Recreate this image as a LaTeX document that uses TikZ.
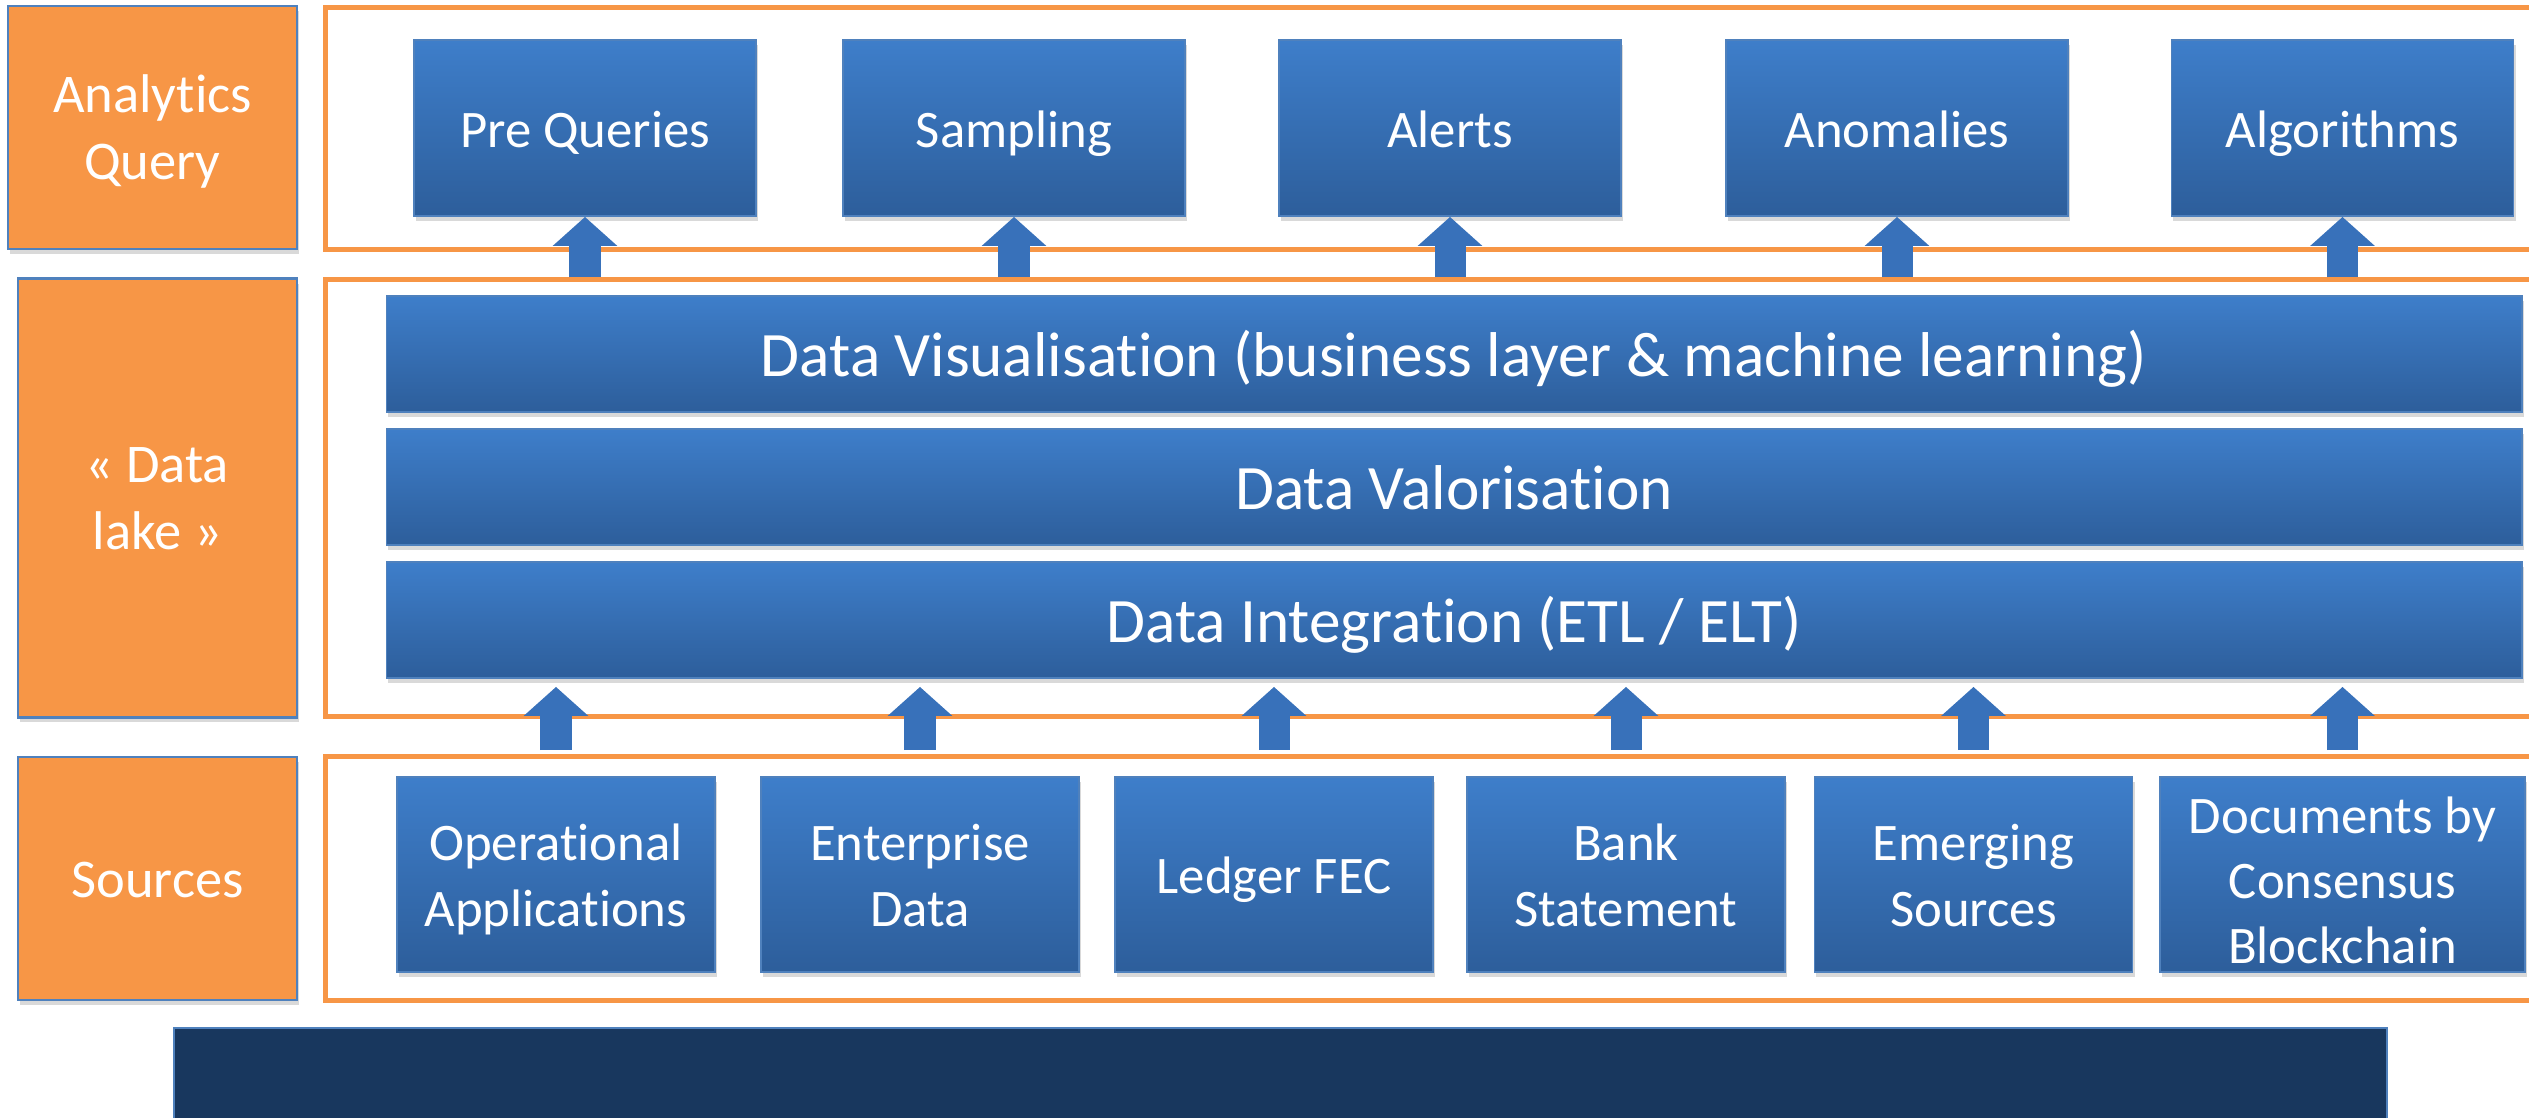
\documentclass[tikz,border=0pt]{standalone}
\usepackage{fontspec}
\setmainfont{Carlito}[Ligatures=NoCommon]
\usetikzlibrary{arrows.meta,shadows}
\definecolor{lblorange}{RGB}{247,150,70}
\definecolor{boxtop}{RGB}{62,126,202}
\definecolor{boxbottom}{RGB}{45,94,155}
\definecolor{boxedge}{RGB}{79,129,189}
\definecolor{navy}{RGB}{24,55,94}
\definecolor{arrowblue}{RGB}{56,113,186}
\tikzset{
  softshadow/.style={drop shadow={opacity=0.3,shadow xshift=0.02cm,shadow yshift=-0.05cm}},
  oneline/.style={text height=12.2pt,text depth=1.4pt},
  twolines/.style={text height=30.7pt,text depth=1.4pt},
  threelines/.style={text height=52pt,text depth=1.4pt},
  labelbox/.style={draw=boxedge,line width=0.8pt,fill=lblorange,text=white,align=center,
    inner sep=0pt,font=\fontsize{15.5}{19}\selectfont,softshadow},
  framebox/.style={draw=lblorange,line width=0.05cm,minimum width=22.34cm,inner sep=0pt},
  bluebox/.style={draw=boxedge,line width=0.5pt,top color=boxtop,bottom color=boxbottom,
    text=white,align=center,inner sep=0pt,font=\fontsize{15}{18.5}\selectfont,softshadow},
  querybox/.style={bluebox,oneline,minimum width=3.42cm,minimum height=1.76cm},
  sourcebox/.style={bluebox,minimum width=3.18cm,minimum height=1.95cm},
  layerbar/.style={bluebox,font=\fontsize{18}{22}\selectfont,text height=14.6pt,text depth=1.7pt,
    minimum width=21.34cm,minimum height=1.16cm},
  uparrow/.style={draw=arrowblue,line width=0.31cm,-{Triangle[width=0.63cm,length=0.29cm]}}
}
\begin{document}
\begin{tikzpicture}[x=0.01cm,y=-0.01cm]
  \useasboundingbox (0,0) rectangle (2529,1117);
  \clip (0,0) rectangle (2529,1117);

  \node[labelbox,twolines,minimum width=2.89cm,minimum height=2.43cm] (aqlabel) at (152.5,127.5) {Analytics\\Query};
  \node[labelbox,twolines,minimum width=2.79cm,minimum height=4.38cm] (lakelabel) at (157.5,498) {« Data\\lake »};
  \node[labelbox,oneline,minimum width=2.79cm,minimum height=2.43cm] (srclabel) at (157.5,878.5) {Sources};

  \node[framebox,minimum height=2.41cm] (queryframe) at (1443,128.5) {};
  \node[framebox,minimum height=4.36cm] (lakeframe) at (1443,498) {};
  \node[framebox,minimum height=2.43cm] (srcframe) at (1443,878.5) {};

  \node[querybox] (prequeries) at (585,128) {Pre Queries};
  \node[querybox] (sampling) at (1014,128) {Sampling};
  \node[querybox] (alerts) at (1450,128) {Alerts};
  \node[querybox] (anomalies) at (1897,128) {Anomalies};
  \node[querybox] (algorithms) at (2342.5,128) {Algorithms};

  \node[layerbar] (visual) at (1454,354) {Data Visualisation (business layer \& machine learning)};
  \node[layerbar] (valor) at (1454,487) {Data Valorisation};
  \node[layerbar] (integ) at (1454,620) {Data Integration (ETL / ELT)};

  \node[sourcebox,twolines] (operational) at (556,874.5) {Operational\\Applications};
  \node[sourcebox,twolines] (enterprise) at (920,874.5) {Enterprise\\Data};
  \node[sourcebox,oneline] (ledger) at (1274,874.5) {Ledger FEC};
  \node[sourcebox,twolines] (bank) at (1626,874.5) {Bank\\Statement};
  \node[sourcebox,twolines] (emerging) at (1973.5,874.5) {Emerging\\Sources};
  \node[sourcebox,threelines,minimum width=3.65cm] (documents) at (2342.5,874.5) {Documents by\\Consensus\\Blockchain};

  \draw[draw=boxedge,fill=navy] (174,1028) rectangle (2387,1140);

  \begin{scope}[uparrow]
    \draw (prequeries.south |- lakeframe.north) to (prequeries.south);
    \draw (sampling.south |- lakeframe.north) to (sampling.south);
    \draw (alerts.south |- lakeframe.north) to (alerts.south);
    \draw (anomalies.south |- lakeframe.north) to (anomalies.south);
    \draw (algorithms.south |- lakeframe.north) to (algorithms.south);
  \end{scope}
  \begin{scope}[uparrow,shorten <=0.26cm,shorten >=0.08cm]
    \draw (operational.north) to (operational.north |- integ.south);
    \draw (enterprise.north) to (enterprise.north |- integ.south);
    \draw (ledger.north) to (ledger.north |- integ.south);
    \draw (bank.north) to (bank.north |- integ.south);
    \draw (emerging.north) to (emerging.north |- integ.south);
    \draw (documents.north) to (documents.north |- integ.south);
  \end{scope}
\end{tikzpicture}
\end{document}
